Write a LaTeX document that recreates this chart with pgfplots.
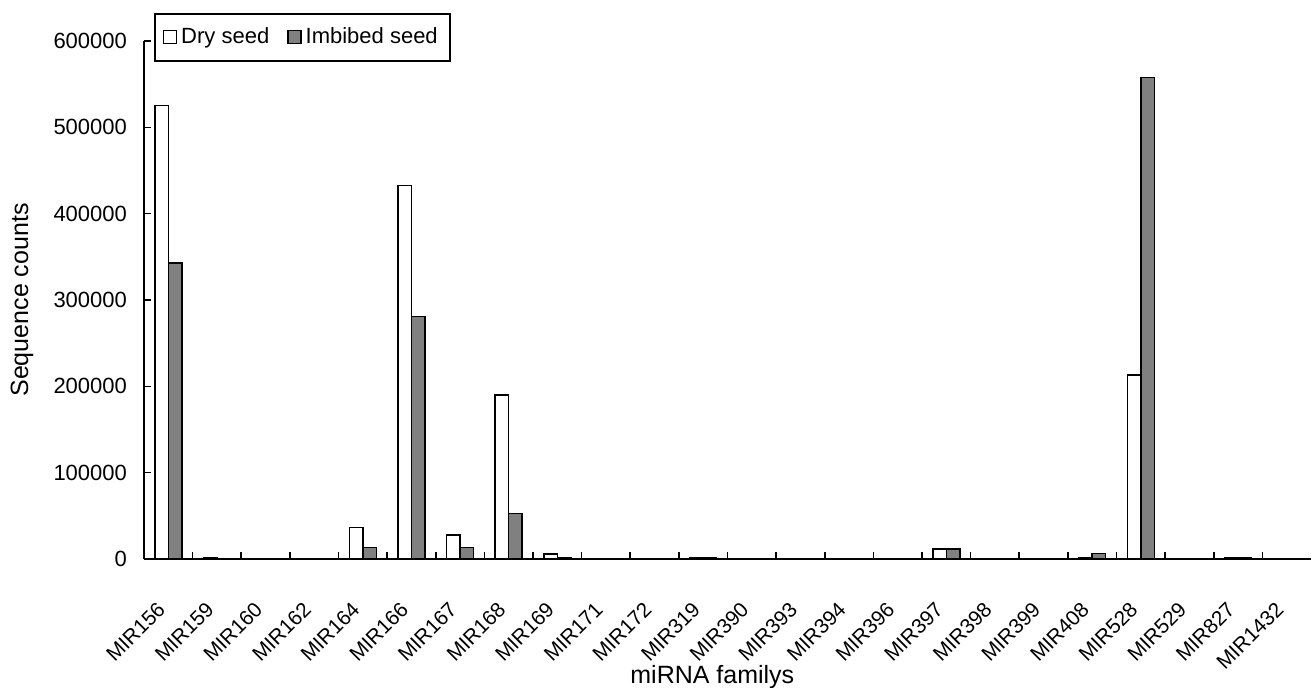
\documentclass[border=0pt]{standalone}
\usepackage{pgfplots}
\pgfplotsset{compat=1.18}
\usepackage{fontspec}
\setmainfont{Liberation Sans}
\usetikzlibrary{calc}
\definecolor{barGray}{RGB}{128,128,128}

% counts per family: x index, dry seed, imbibed seed
\pgfplotstableread{
idx dry imb
1  525000 343000
2  2000   400
3  0      0
4  0      0
5  36700  13100
6  432800 280600
7  27800  13500
8  190000 52900
9  5800   2000
10 0      0
11 0      0
12 1500   1500
13 0      0
14 0      0
15 0      0
16 0      0
17 11600  11600
18 0      0
19 0      0
20 1500   6600
21 213000 558000
22 0      0
23 1500   1500
24 0      0
}\mirdata

\begin{document}
\begin{tikzpicture}
\begin{axis}[
    name=ax,
    scale only axis,
    width=583.5pt, height=259pt,
    ybar=0pt, bar width=6.75pt,
    xmin=0.5, xmax=24.5,
    ymin=0, ymax=600000,
    axis x line*=bottom, axis y line*=left,
    axis line style={line width=0.8pt},
    tick align=inside,
    major tick length=3.5pt,
    tick style={black, line width=0.8pt},
    xtick={0.5,1.5,...,23.5},
    xticklabels={},
    extra x ticks={1,...,24},
    extra x tick labels={MIR156,MIR159,MIR160,MIR162,MIR164,MIR166,MIR167,MIR168,MIR169,MIR171,MIR172,MIR319,MIR390,MIR393,MIR394,MIR396,MIR397,MIR398,MIR399,MIR408,MIR528,MIR529,MIR827,MIR1432},
    extra x tick style={major tick length=0pt},
    xticklabel style={font=\fontsize{10.4}{12}\selectfont, xshift=-1pt, yshift=-21pt, rotate=45, anchor=east},
    ytick={0,100000,...,600000},
    scaled y ticks=false,
    /pgf/number format/fixed,
    /pgf/number format/precision=0,
    /pgf/number format/1000 sep={},
    /pgf/number format/assume math mode=true,
    yticklabel style={font=\fontsize{11}{13}\selectfont, xshift=-5pt},
    xlabel={miRNA familys},
    ylabel={Sequence counts},
    xlabel style={font=\fontsize{12.5}{14}\selectfont, at={(axis description cs:0.487,-0.228)}, anchor=center},
    ylabel style={font=\fontsize{12.5}{14}\selectfont, at={(axis description cs:-0.1045,0.5)}, anchor=center},
    legend style={at={(axis description cs:0.0086,1.054)}, anchor=north west,
        legend columns=2, draw=black, line width=0.8pt,
        inner xsep=4pt, inner ysep=5pt,
        font=\fontsize{11}{13}\selectfont,
        /tikz/every even column/.append style={column sep=7pt}},
    legend image code/.code={\draw[#1, line width=0.7pt] (0pt,-3.25pt) rectangle (6.5pt,3.25pt);},
]
\addplot[draw=black, line width=0.7pt, fill=white] table[x=idx, y=dry] {\mirdata};
\addlegendentry{Dry seed}
\addplot[draw=black, line width=0.7pt, fill=barGray] table[x=idx, y=imb] {\mirdata};
\addlegendentry{Imbibed seed}
\end{axis}
\pgfresetboundingbox
\path[use as bounding box] ($(ax.south west)+(-72pt,-64.5pt)$) rectangle ($(ax.north east)+(0.5pt,20.5pt)$);
\end{tikzpicture}
\end{document}
